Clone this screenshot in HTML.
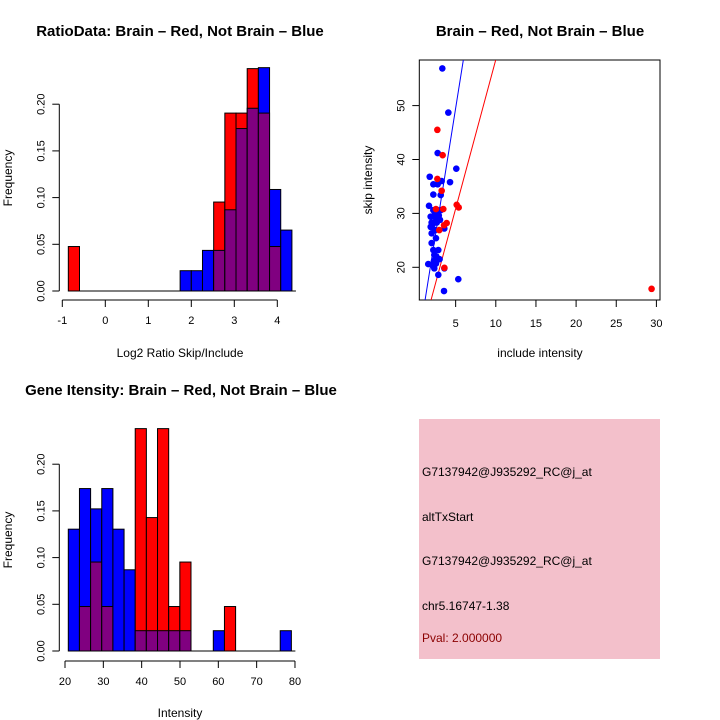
<!DOCTYPE html>
<html><head><meta charset="utf-8"><style>
html,body{margin:0;padding:0;background:#fff;width:720px;height:720px;overflow:hidden}
svg{display:block;font-family:"Liberation Sans",sans-serif}
</style></head><body>
<svg id="s" width="720" height="720" xmlns="http://www.w3.org/2000/svg">
<text x="180" y="36" font-size="15" font-weight="bold" text-anchor="middle">RatioData: Brain – Red, Not Brain – Blue</text>
<text x="540" y="36" font-size="15" font-weight="bold" text-anchor="middle">Brain – Red, Not Brain – Blue</text>
<text x="181" y="395" font-size="15" font-weight="bold" text-anchor="middle">Gene Itensity: Brain – Red, Not Brain – Blue</text>
<text x="180" y="357" font-size="12" text-anchor="middle">Log2 Ratio Skip/Include</text>
<text x="12" y="178" font-size="12" text-anchor="middle" transform="rotate(-90 12 178)">Frequency</text>
<text x="540" y="357" font-size="12" text-anchor="middle">include intensity</text>
<text x="372" y="180" font-size="12" text-anchor="middle" transform="rotate(-90 372 180)">skip intensity</text>
<text x="180" y="717" font-size="12" text-anchor="middle">Intensity</text>
<text x="12" y="540" font-size="12" text-anchor="middle" transform="rotate(-90 12 540)">Frequency</text>
<g>
<rect x="419" y="419" width="241" height="240" fill="#f3c0cb"/>
<g font-size="12">
<text x="422" y="476">G7137942@J935292_RC@j_at</text>
<text x="422" y="521">altTxStart</text>
<text x="422" y="565">G7137942@J935292_RC@j_at</text>
<text x="422" y="610">chr5.16747-1.38</text>
<text x="422" y="642" fill="#8b0000">Pval: 2.000000</text>
</g></g>
<g id="g1"></g>
<g id="g2"></g>
<g id="g3"></g>
</svg>
<script>
// Ratio histogram data
const ratioBinStart = -0.86;
const ratioBinWidth = 0.26;
const ratioRedCounts = [1,0,0,0,0,0,0,0,0,0,0,0,0,2,4,4,5,4,1,0];
const ratioBlueCounts = [0,0,0,0,0,0,0,0,0,0,1,1,2,2,4,8,9,11,5,3];
const ratioRedTotal = 21;
const ratioBlueTotal = 46;
const ratioXTicks = [-1,0,1,2,3,4];
const freqTicks = [0,0.05,0.10,0.15,0.20];
const freqTickLabels = ["0.00","0.05","0.10","0.15","0.20"];
// Intensity histogram data
const intBinStart = 20.86;
const intBinWidth = 2.91;
const intRedCounts = [0,1,2,1,0,0,5,3,5,1,2,0,0,0,1,0,0,0,0,0];
const intBlueCounts = [6,8,7,8,6,4,1,1,1,1,1,0,0,1,0,0,0,0,0,1];
const intXTicks = [20,30,40,50,60,70,80];
// Scatter data
const blueX = [3.34,4.09,2.76,5.08,1.77,2.22,2.76,3.26,4.30,2.22,3.14,1.68,2.22,2.76,3.14,1.89,2.55,3.05,2.01,2.64,3.59,1.89,2.43,2.01,2.55,2.01,2.22,2.84,2.34,1.59,2.14,2.55,2.34,2.84,3.59,5.33,3.55,2.4,2.9,2.1,2.6,3.0,2.3,2.7];
const blueY = [56.9,48.7,41.2,38.3,36.8,35.4,35.4,36.0,35.8,33.5,33.4,31.4,30.6,30.6,30.6,29.4,29.1,28.8,28.3,28.3,27.2,27.5,26.9,26.3,25.4,24.5,23.2,23.2,22.3,20.6,20.4,20.7,19.8,18.6,19.8,17.8,15.6,29.8,29.6,27.9,22.0,21.5,21.2,30.0];
const redX = [2.72,3.38,2.72,3.26,3.46,2.55,5.13,5.38,3.88,3.55,2.96,29.4,3.6];
const redY = [45.5,40.8,36.4,34.2,30.8,30.8,31.6,31.1,28.2,27.8,26.9,16.0,19.9];
const lineBlue = [2.77, 9.35];  // intercept, slope
const lineRed = [3.23, 5.53];
const scXTicks = [5,10,15,20,25,30];
const scYTicks = [20,30,40,50];

const NS="http://www.w3.org/2000/svg";
function mk(parent,tag,attrs){const e=document.createElementNS(NS,tag);for(const k in attrs)e.setAttribute(k,attrs[k]);parent.appendChild(e);return e;}

function drawHist(g,o){
  const sx=v=>o.x0+(v-o.xmin)*o.xs;
  const sy=v=>o.y0-v*o.ys;
  o.red.forEach((c,i)=>{
    const r=c/o.rt,b=o.blue[i]/o.bt;
    const l=sx(o.bs+i*o.bw), w=o.bw*o.xs;
    const mx=Math.max(r,b), mn=Math.min(r,b);
    if(mx>0){
      const e=mk(g,'rect',{x:l,y:sy(mx),width:w,height:sy(0)-sy(mx),fill:r>b?'#ff0000':'#0000ff',stroke:'#000','stroke-width':1});
      
      
    }
    if(mn>0){
      const e=mk(g,'rect',{x:l,y:sy(mn),width:w,height:sy(0)-sy(mn),fill:'#800080',stroke:'#000','stroke-width':1});
      
      
    }
  });
  const xa=mk(g,'line',{x1:sx(o.xt[0]),x2:sx(o.xt[o.xt.length-1]),y1:o.xay,y2:o.xay,stroke:'#000'});
  
  
  o.xt.forEach(t=>{
    mk(g,'line',{x1:sx(t),x2:sx(t),y1:o.xay,y2:o.xay+7,stroke:'#000'});
    const tx=mk(g,'text',{x:sx(t),y:o.xay+24,'font-size':11,'text-anchor':'middle'});
    tx.textContent=t;
    
    
  });
  const ya=mk(g,'line',{x1:o.yax,x2:o.yax,y1:sy(0),y2:sy(0.2),stroke:'#000'});
  
  
  freqTicks.forEach((t,i)=>{
    mk(g,'line',{x1:o.yax-7,x2:o.yax,y1:sy(t),y2:sy(t),stroke:'#000'});
    const tx=mk(g,'text',{x:o.yax-15,y:sy(t),'font-size':11,'text-anchor':'middle',transform:`rotate(-90 ${o.yax-15} ${sy(t)})`});
    tx.textContent=freqTickLabels[i];
    
    
  });
  mk(g,'line',{x1:sx(o.bs),x2:sx(o.bs+o.red.length*o.bw)+4,y1:sy(0),y2:sy(0),stroke:'#000','stroke-width':1});
}
drawHist(document.getElementById('g1'),{x0:105.3,xmin:0,xs:43,y0:291,ys:934,bs:ratioBinStart,bw:ratioBinWidth,red:ratioRedCounts,blue:ratioBlueCounts,rt:ratioRedTotal,bt:ratioBlueTotal,xt:ratioXTicks,xay:300,yax:59.3});
drawHist(document.getElementById('g3'),{x0:65,xmin:20,xs:3.833,y0:651,ys:934,bs:intBinStart,bw:intBinWidth,red:intRedCounts,blue:intBlueCounts,rt:21,bt:46,xt:intXTicks,xay:661,yax:59.3});

(function(){
  const g=document.getElementById('g2');
  const L=419.3,R=660,T=60,B=300;
  const sx=v=>415.5+v*8.03, sy=v=>267.3-(v-20)*5.39;
  const box=mk(g,'rect',{x:L,y:T,width:R-L,height:B-T,fill:'none',stroke:'#000'});
  
  
  const cp=mk(g,'clipPath',{id:'cp'});mk(cp,'rect',{x:L,y:T,width:R-L,height:B-T});
  const lg=mk(g,'g',{'clip-path':'url(#cp)'});
  [[lineBlue,'#0000ff','blue-fit-line'],[lineRed,'#ff0000','red-fit-line']].forEach(([ln,c,n])=>{
    const x1=0,x2=40;
    const e=mk(lg,'line',{x1:sx(x1),y1:sy(ln[0]+ln[1]*x1),x2:sx(x2),y2:sy(ln[0]+ln[1]*x2),stroke:c,'stroke-width':1});
    
    
  });
  blueX.forEach((x,i)=>{
    const e=mk(g,'circle',{cx:sx(x),cy:sy(blueY[i]),r:3.3,fill:'#0000ff'});
    
    
  });
  redX.forEach((x,i)=>{
    const e=mk(g,'circle',{cx:sx(x),cy:sy(redY[i]),r:3.3,fill:'#ff0000'});
    
    
  });
  scXTicks.forEach(t=>{
    mk(g,'line',{x1:sx(t),x2:sx(t),y1:B,y2:B+7,stroke:'#000'});
    const tx=mk(g,'text',{x:sx(t),y:B+27,'font-size':11,'text-anchor':'middle'});
    tx.textContent=t;
    
    
  });
  scYTicks.forEach(t=>{
    mk(g,'line',{x1:L-7,x2:L,y1:sy(t),y2:sy(t),stroke:'#000'});
    const tx=mk(g,'text',{x:L-15,y:sy(t),'font-size':11,'text-anchor':'middle',transform:`rotate(-90 ${L-15} ${sy(t)})`});
    tx.textContent=t;
    
    
  });
})();
</script>
</body></html>
